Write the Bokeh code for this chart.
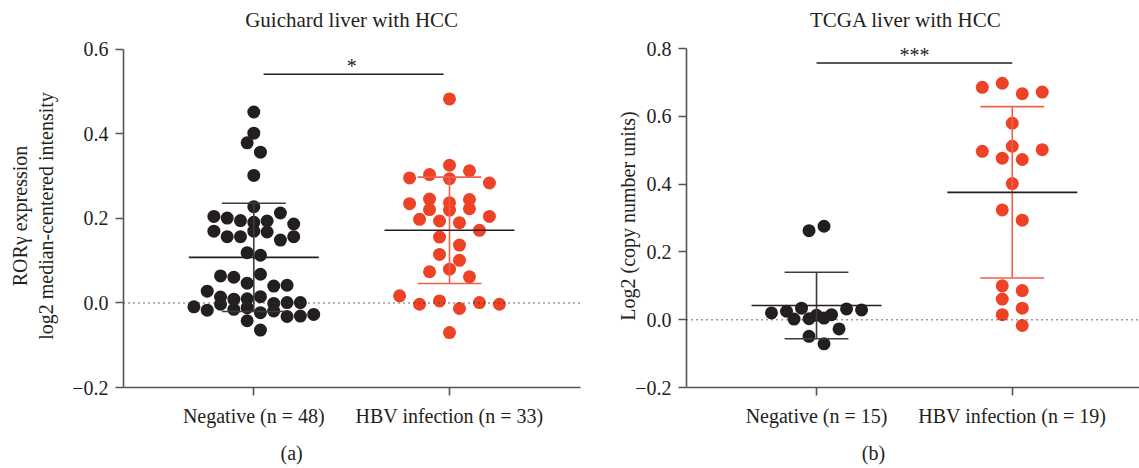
import math
from bokeh.plotting import figure
from bokeh.layouts import row
from bokeh.models import FixedTicker, Span, Label, ColumnDataSource, LinearAxis
from bokeh.embed import file_html
from bokeh.resources import INLINE

# ---------------- data ----------------
# Panel (a): Guichard liver with HCC
a_title = "Guichard liver with HCC"
a_categories = ["Negative (n = 48)", "HBV infection (n = 33)"]
a_neg = [0.452, 0.402, 0.379, 0.357, 0.302, 0.228, 0.205, 0.201, 0.195, 0.191,
         0.194, 0.213, 0.187, 0.170, 0.157, 0.157, 0.170, 0.168, 0.149, 0.157,
         0.119, 0.113, 0.064, 0.061, 0.047, 0.068, 0.040, 0.042, 0.028, 0.014,
         0.009, 0.010, 0.015, -0.009, -0.017, -0.003, -0.001, 0.001, 0.001, -0.015,
         -0.011, -0.023, -0.019, -0.032, -0.042, -0.031, -0.027, -0.064]
a_hbv = [0.483, 0.326, 0.296, 0.304, 0.294, 0.313, 0.284, 0.235, 0.246, 0.237,
         0.245, 0.221, 0.220, 0.223, 0.198, 0.194, 0.205, 0.190, 0.172, 0.156,
         0.137, 0.115, 0.101, 0.074, 0.080, 0.062, 0.017, -0.003, 0.005, -0.013,
         0.001, -0.003, -0.070]
a_mean = [0.108, 0.172]
a_sd = [0.128, 0.126]
a_sig = "*"
a_ylabel = "RORγ expression\nlog2 median-centered intensity"
a_yticks = [-0.2, 0.0, 0.2, 0.4, 0.6]
a_tag = "(a)"

# Panel (b): TCGA liver with HCC
b_title = "TCGA liver with HCC"
b_categories = ["Negative (n = 15)", "HBV infection (n = 19)"]
b_neg = [0.263, 0.276, 0.020, 0.025, 0.034, 0.002, 0.003, 0.005, 0.013, 0.015,
         0.032, 0.029, -0.027, -0.049, -0.071]
b_hbv = [0.686, 0.698, 0.667, 0.672, 0.580, 0.497, 0.477, 0.512, 0.473, 0.502,
         0.402, 0.324, 0.294, 0.100, 0.086, 0.061, 0.034, 0.015, -0.017]
b_mean = [0.042, 0.376]
b_sd = [0.098, 0.253]
b_sig = "***"
b_ylabel = "Log2 (copy number units)"
b_yticks = [-0.2, 0.0, 0.2, 0.4, 0.6, 0.8]
b_tag = "(b)"

# ---------------- style ----------------
FONT = "Liberation Serif"
FS = "20px"
TXT = "#231f20"
BLACK = "#231f20"
RED = "#ee4227"
RED_BAR = "#f0604b"
AXIS = "#555555"
DOT = 13


def swarm(vals, row_h, spacing):
    order = sorted(range(len(vals)), key=lambda i: vals[i])
    rows, cur, start = [], [], None
    for i in order:
        if cur and vals[i] - start > row_h:
            rows.append(cur)
            cur = []
        if not cur:
            start = vals[i]
        cur.append(i)
    if cur:
        rows.append(cur)
    off = [0.0] * len(vals)
    for r in rows:
        r = sorted(r)
        n = len(r)
        for k, i in enumerate(r):
            off[i] = (k - (n - 1) / 2) * spacing
    return off


def fmt(v):
    s = "%.1f" % v
    return s.replace("-", "\u2212")


def text_axis(tick, text, standoff, size):
    return LinearAxis(ticker=FixedTicker(ticks=[tick]),
                      major_label_overrides={tick: text},
                      axis_line_color=None, major_tick_line_color=None,
                      minor_tick_line_color=None, major_tick_out=0,
                      major_tick_in=0, major_label_standoff=standoff,
                      major_label_text_font=FONT,
                      major_label_text_font_size=size,
                      major_label_text_color=TXT)


def panel(width, border_left, border_right, border_top, xr, yr, yticks, cats,
          groups, colors, bar_colors, spacings, row_h, means, sds, sig, sig_x,
          sig_y, star_y, title, title_x, title_standoff, ylabel, ylabel_standoff,
          tag, tag_x):
    p = figure(width=width, height=468, output_backend="svg", toolbar_location=None,
               title=None, x_range=xr, y_range=yr, min_border_left=border_left,
               min_border_right=border_right, min_border_top=border_top,
               min_border_bottom=81)
    p.outline_line_color = None
    p.xgrid.visible = False
    p.ygrid.visible = False
    p.background_fill_color = "white"
    p.border_fill_color = "white"

    for ax in (p.xaxis[0], p.yaxis[0]):
        ax.axis_line_color = AXIS
        ax.axis_line_width = 1.6
        ax.major_tick_line_color = AXIS
        ax.major_tick_line_width = 1.6
        ax.major_tick_out = 8
        ax.major_tick_in = 0
        ax.minor_tick_line_color = None
        ax.major_label_text_font = FONT
        ax.major_label_text_font_size = FS
        ax.major_label_text_color = TXT

    ya = p.yaxis[0]
    ya.ticker = FixedTicker(ticks=yticks)
    ya.major_label_overrides = {t: fmt(t) for t in yticks}
    ya.bounds = (yticks[0], yticks[-1])
    ya.major_label_standoff = 7
    ya.axis_label = ylabel
    ya.axis_label_text_font = FONT
    ya.axis_label_text_font_size = FS
    ya.axis_label_text_font_style = "normal"
    ya.axis_label_text_color = TXT
    ya.axis_label_standoff = ylabel_standoff

    xa = p.xaxis[0]
    xa.ticker = FixedTicker(ticks=[1, 2])
    xa.major_label_overrides = {1: cats[0], 2: cats[1]}
    xa.major_label_standoff = 9

    p.add_layout(text_axis(tag_x, tag, 12, FS), "below")
    p.add_layout(text_axis(title_x, title, title_standoff, "21px"), "above")

    p.add_layout(Span(location=0, dimension="width", line_color="#333333",
                      line_width=1.3, line_dash="1 4"))

    for gi, vals in enumerate(groups):
        xc = gi + 1
        off = swarm(vals, row_h, spacings[gi])
        src = ColumnDataSource(dict(x=[xc + o for o in off], y=vals))
        p.scatter("x", "y", source=src, size=DOT, fill_color=colors[gi],
                  line_color=None)
        m, s = means[gi], sds[gi]
        p.segment(x0=[xc], y0=[m - s], x1=[xc], y1=[m + s],
                  line_color=bar_colors[gi], line_width=1.6)
        p.segment(x0=[xc - 0.163, xc - 0.163], y0=[m - s, m + s],
                  x1=[xc + 0.163, xc + 0.163], y1=[m - s, m + s],
                  line_color=bar_colors[gi], line_width=1.6)
        p.segment(x0=[xc - 0.332], y0=[m], x1=[xc + 0.332], y1=[m],
                  line_color=BLACK, line_width=1.6)

    p.segment(x0=[sig_x[0]], y0=[sig_y], x1=[sig_x[1]], y1=[sig_y],
              line_color=BLACK, line_width=1.6)
    p.add_layout(Label(x=1.5, y=star_y, text=sig, text_align="center",
                       text_baseline="middle", text_font=FONT,
                       text_font_size=FS, text_color=TXT))
    return p


pa = panel(584, 123, 4, 44, (0.3342, 2.6694), (-0.2, 0.6118), a_yticks, a_categories,
           [a_neg, a_hbv], [BLACK, RED], ["#3c3c3c", RED_BAR], [0.068, 0.102],
           0.0307, a_mean, a_sd, a_sig, (1.05, 1.97), 0.5414, 0.562,
           a_title, 1.5, 13, a_ylabel, 12, a_tag, 1.193)

pb = panel(555, 102, 0, 44, (0.3357, 2.650), (-0.2, 0.8124), b_yticks, b_categories,
           [b_neg, b_hbv], [BLACK, RED], ["#3c3c3c", RED_BAR], [0.0767, 0.102],
           0.0384, b_mean, b_sd, b_sig, (1.0, 2.0), 0.758, 0.780,
           b_title, 1.457, 13, b_ylabel, -7, b_tag, 1.291)

layout = row(pa, pb)
open("out.html", "w").write(file_html(layout, INLINE))
